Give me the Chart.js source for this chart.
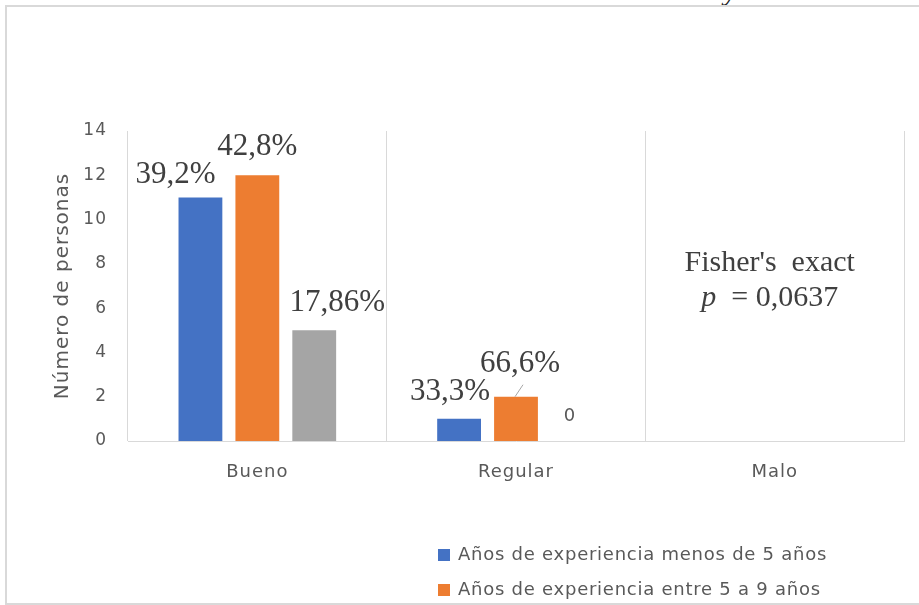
<!DOCTYPE html>
<html>
<head>
<meta charset="utf-8">
<script src="https://cdn.jsdelivr.net/npm/chart.js@4.4.0/dist/chart.umd.min.js"></script>
<style>
  html, body { margin: 0; padding: 0; background: #fff; }
  #wrap { position: relative; width: 919px; height: 605px; overflow: hidden; }
  #frame { position: absolute; left: 5px; top: 5px; width: 940px; height: 596px; border: 2px solid #d9d9d9; box-sizing: content-box; }
  #frag { position: absolute; left: 724px; top: -27px; font: italic 30px "Liberation Serif", serif; color: #222; }
  #ctx { position: absolute; left: 0; top: 0; }
</style>
</head>
<body>
<div id="wrap">
  <div id="frag">y</div>
  <div id="frame"></div>
  <canvas id="ctx" width="919" height="605"></canvas>
</div>
<script>
var categorias = ["Bueno", "Regular", "Malo"];
var menos5 = [11, 1, 0];
var entre5y9 = [12, 2, 0];
var mas10 = [5, 0, 0];
var series = [
    "Años de experiencia menos de 5 años",
    "Años de experiencia entre 5 a 9 años",
    "Años de experiencia de 10 años a más"
];
var porcentajes = [
    ["39,2%", "33,3%", ""],
    ["42,8%", "66,6%", ""],
    ["17,86%", "0", ""]
];
var yTicks = [0, 2, 4, 6, 8, 10, 12, 14];

var gris = '#595959';

// label placement (dx from bar center, dy of baseline from bar top)
var nudges = [
    [[-25, -14], [-9, -19], null],
    [[0, -20], [4, -25], null],
    [[23, -19], [-3, -20], null]
];

var espaciado = {
    id: 'espaciado',
    beforeDraw: function (chart) {
        chart.ctx.letterSpacing = '1px';
    }
};

var etiquetas = {
    id: 'etiquetas',
    afterDatasetsDraw: function (chart) {
        var c = chart.ctx;
        c.save();
        chart.data.datasets.forEach(function (ds, i) {
            var meta = chart.getDatasetMeta(i);
            meta.data.forEach(function (bar, j) {
                var txt = porcentajes[i][j];
                if (!txt) return;
                var n = nudges[i][j];
                c.textAlign = 'center';
                c.textBaseline = 'alphabetic';
                if (txt.indexOf('%') < 0) {
                    c.letterSpacing = '1px';
                    c.font = '18px "DejaVu Sans"';
                    c.fillStyle = gris;
                } else {
                    c.letterSpacing = '0px';
                    c.font = '31px "Liberation Serif"';
                    c.fillStyle = '#404040';
                }
                c.fillText(txt, bar.x + n[0], bar.y + n[1]);
                if (i === 1 && j === 1) {
                    // leader line
                    c.strokeStyle = '#a6a6a6';
                    c.lineWidth = 1;
                    c.beginPath();
                    c.moveTo(bar.x - 1, bar.y);
                    c.lineTo(bar.x + 7, bar.y - 12);
                    c.stroke();
                }
            });
        });

        // Fisher annotation over "Malo"
        var xs = chart.scales.x, ys = chart.scales.y;
        var cx = xs.getPixelForValue(2) - 5;
        var y1 = ys.getPixelForValue(7.7);
        c.letterSpacing = '0px';
        c.fillStyle = '#404040';
        c.textAlign = 'center';
        c.font = '30px "Liberation Serif"';
        c.fillText("Fisher's  exact", cx, y1);
        var y2 = y1 + 35;
        c.font = 'italic 30px "Liberation Serif"';
        var wp = c.measureText('p').width;
        c.font = '30px "Liberation Serif"';
        var rest = '\u2002= 0,0637';
        var wr = c.measureText(rest).width;
        var x0 = cx - (wp + wr) / 2;
        c.textAlign = 'left';
        c.font = 'italic 30px "Liberation Serif"';
        c.fillText('p', x0, y2);
        c.font = '30px "Liberation Serif"';
        c.fillText(rest, x0 + wp, y2);

        // legend (only the first two entries are visible in the frame)
        c.letterSpacing = '0.75px';
        c.font = '18px "DejaVu Sans"';
        c.textBaseline = 'middle';
        chart.data.datasets.forEach(function (ds, i) {
            var ly = 555 + i * 35;
            c.fillStyle = ds.backgroundColor;
            c.fillRect(438, ly - 6, 12, 12);
            c.fillStyle = gris;
            c.fillText(ds.label, 458, ly);
        });
        c.restore();
    }
};

var ctx = document.getElementById("ctx").getContext('2d');

var myChart = new Chart(ctx, {
    type: 'bar',
    data: {
        labels: categorias,
        datasets: [{
            label: series[0],
            data: menos5,
            backgroundColor: '#4472C4'
        }, {
            label: series[1],
            data: entre5y9,
            backgroundColor: '#ED7D31'
        }, {
            label: series[2],
            data: mas10,
            backgroundColor: '#A5A5A5'
        }]
    },
    options: {
        responsive: false,
        animation: false,
        categoryPercentage: 0.66,
        barPercentage: 0.77,
        layout: { padding: { left: 40, top: 131, right: 15, bottom: 104 } },
        plugins: {
            legend: { display: false },
            tooltip: { enabled: false }
        },
        scales: {
            x: {
                afterFit: function (s) { s.height = 60; },
                grid: { color: '#d9d9d9', drawTicks: false, offset: true },
                border: { color: '#d9d9d9' },
                ticks: { color: gris, padding: 21, font: { family: 'DejaVu Sans', size: 18 } }
            },
            y: {
                min: 0,
                max: 14,
                afterFit: function (s) { s.width = 88; },
                afterBuildTicks: function (s) { s.ticks = yTicks.map(function (v) { return { value: v }; }); },
                grid: { display: false, drawTicks: false },
                border: { display: false },
                ticks: { color: gris, padding: 21, font: { family: 'DejaVu Sans', size: 17 } },
                title: {
                    display: true,
                    text: 'Número de personas',
                    color: gris,
                    padding: { top: 11, bottom: 0 },
                    font: { family: 'DejaVu Sans', size: 20 }
                }
            }
        }
    },
    plugins: [espaciado, etiquetas]
});
</script>
</body>
</html>
